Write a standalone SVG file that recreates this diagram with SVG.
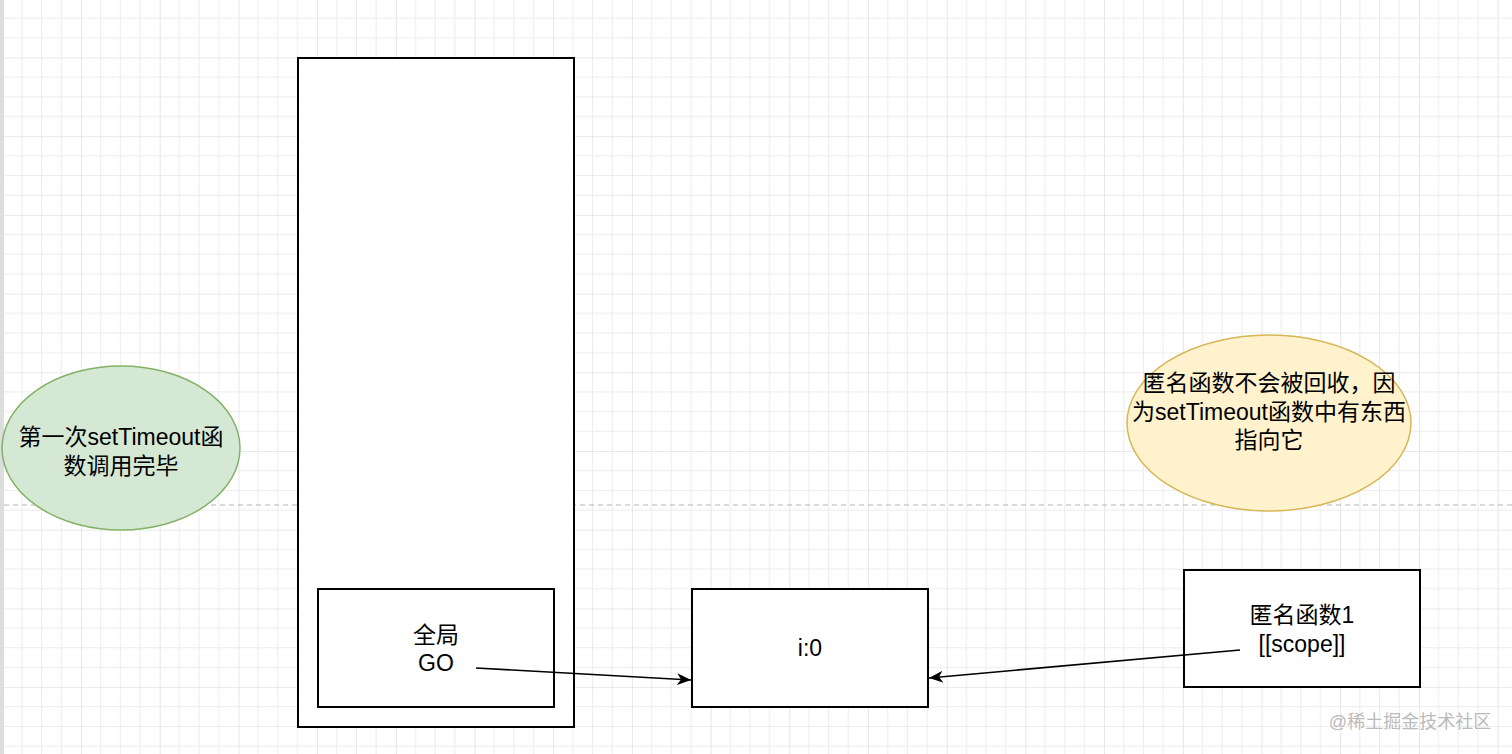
<svg xmlns="http://www.w3.org/2000/svg" width="1512" height="754" viewBox="0 0 1512 754">
<style>
text{font-family:"Liberation Sans","Noto Sans CJK SC",sans-serif;font-size:23px;fill:#000;text-anchor:middle}
.box{fill:#fff;stroke:#000;stroke-width:2}
.c{fill:none;stroke:#000;stroke-width:1.6}
</style>
<defs>
<pattern id="g" patternUnits="userSpaceOnUse" x="2.3" y="-21.2" width="78.7" height="78.7">
<path d="M0 0V78.7M19.7 0V78.7M39.35 0V78.7M59 0V78.7M0 0H78.7M0 19.7H78.7M0 39.35H78.7M0 59H78.7" stroke="#ececec" stroke-width="1" fill="none"/>
<path d="M0 0V78.7M0 0H78.7" stroke="#dcdcdc" stroke-width="1.2" fill="none"/>
</pattern>
<marker id="a" viewBox="0 0 14 12" refX="14" refY="6" markerWidth="14" markerHeight="12" markerUnits="userSpaceOnUse" orient="auto"><path d="M0 0L14 6L0 12L4 6Z" fill="#000"/></marker>
</defs>
<rect width="1512" height="754" fill="#fff"/>
<rect x="4" width="1508" height="754" fill="url(#g)"/>
<rect x="0" y="0" width="4" height="754" fill="#ddd"/>
<line x1="4" y1="505" x2="1512" y2="505" stroke="#b5b5b5" stroke-dasharray="5 4"/>
<g id="stack"><rect class="box" x="298" y="58" width="276" height="669"/></g>
<g id="global"><rect class="box" x="318" y="589" width="236" height="118"/><text x="436" y="643">全局</text><text x="436" y="671">GO</text></g>
<g id="i0"><rect class="box" x="692" y="589" width="236" height="118"/><text x="810" y="656">i:0</text></g>
<g id="anon"><rect class="box" x="1184" y="570" width="236" height="117"/><text x="1302" y="623">匿名函数1</text><text x="1302" y="652">[[scope]]</text></g>
<g id="note1"><ellipse cx="121" cy="448" rx="119" ry="82" fill="#d5e8d4" stroke="#82b366" stroke-width="1.5"/><text x="121" y="445">第一次setTimeout函</text><text x="121" y="474">数调用完毕</text></g>
<g id="note2"><ellipse cx="1269" cy="423" rx="142" ry="88" fill="#fff2cc" stroke="#d6b656" stroke-width="1.5"/><text x="1269" y="391">匿名函数不会被回收，因</text><text x="1269" y="420">为setTimeout函数中有东西</text><text x="1269" y="448">指向它</text></g>
<g id="connectors">
<line class="c" x1="476" y1="668" x2="691" y2="680" marker-end="url(#a)"/>
<line class="c" x1="1240" y1="650" x2="929" y2="678" marker-end="url(#a)"/>
</g>
<text x="1410" y="728" style="font-size:18px;fill:#bbb">@稀土掘金技术社区</text>
</svg>
